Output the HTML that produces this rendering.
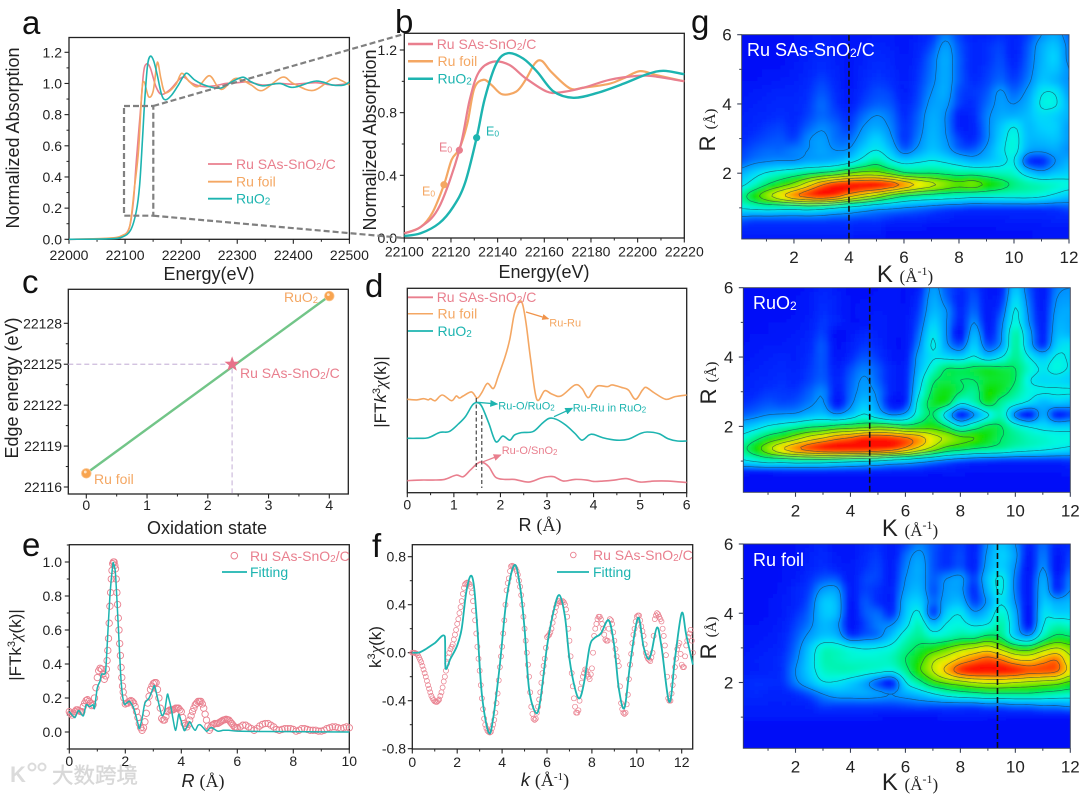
<!DOCTYPE html>
<html lang="en">
<head>
<meta charset="utf-8">
<title>Ru SAs-SnO2/C XAFS figure</title>
<style>
html,body{margin:0;padding:0;background:#fff;}
#figure{display:block;width:1080px;height:794px;filter:blur(0.35px);font-family:"Liberation Sans",Arial,sans-serif;fill:#222;}
.serif{font-family:"Liberation Serif",serif;}
.pl{font-size:33px;fill:#111;}
.at{font-size:18px;fill:#222;}
.lg{font-size:14px;}
.an{font-size:11px;}
.pink{fill:#e97f8e;}
.orange{fill:#f4a763;}
.teal{fill:#1db4b0;}
.wh{fill:#fff;font-size:18px;}
</style>
</head>
<body>
<svg id="figure" xmlns="http://www.w3.org/2000/svg" width="1080" height="794" viewBox="0 0 1080 794">
<defs>
<marker id="arrow-orange" markerWidth="7" markerHeight="6" refX="6" refY="3" orient="auto" markerUnits="userSpaceOnUse"><path d="M0 0L7 3L0 6z" fill="#f0934a"/></marker>
<marker id="arrow-teal" markerWidth="8" markerHeight="7" refX="7" refY="3.5" orient="auto" markerUnits="userSpaceOnUse"><path d="M0 0L8 3.5L0 7z" fill="#1db4b0"/></marker>
<marker id="arrow-pink" markerWidth="8" markerHeight="7" refX="7" refY="3.5" orient="auto" markerUnits="userSpaceOnUse"><path d="M0 0L8 3.5L0 7z" fill="#e97f8e"/></marker>
<filter id="soft" x="-5%" y="-5%" width="110%" height="110%"><feGaussianBlur stdDeviation="1.5"/></filter>
<clipPath id="clip-g1"><rect x="741.7" y="34.7" width="327.3" height="204.3"/></clipPath>
<clipPath id="clip-g2"><rect x="743.3" y="287.7" width="327" height="204.6"/></clipPath>
<clipPath id="clip-g3"><rect x="743.3" y="544" width="327" height="204.3"/></clipPath>
</defs>

<!-- panel letters -->
<text class="pl" x="22" y="34">a</text>
<text class="pl" x="395" y="33">b</text>
<text class="pl" x="22" y="293">c</text>
<text class="pl" x="365" y="297">d</text>
<text class="pl" x="22" y="556">e</text>
<text class="pl" x="372" y="557">f</text>
<text class="pl" x="691" y="33">g</text>

<!-- heatmap layers -->
<g id="layer-g1"></g>
<g id="layer-g2"></g>
<g id="layer-g3"></g>

<!-- line plot layers -->
<g id="layer-a"></g>
<g id="layer-b"></g>
<g id="layer-c"></g>
<g id="layer-d"></g>
<g id="layer-e"></g>
<g id="layer-f"></g>

<!-- zoom guide between a and b -->
<g fill="none" stroke="#808080" stroke-width="2.2" stroke-dasharray="6 3">
<rect x="124" y="106" width="29.3" height="109.7"/>
<line x1="153.3" y1="106" x2="404" y2="34"/>
<line x1="153.3" y1="215.7" x2="404" y2="238"/>
</g>

<!-- axis titles -->
<text class="at" transform="translate(19,138) rotate(-90)" text-anchor="middle">Normalized Absorption</text>
<text class="at" x="209" y="280" text-anchor="middle">Energy(eV)</text>
<text class="at" transform="translate(376,140) rotate(-90)" text-anchor="middle">Normalized Absorption</text>
<text class="at" x="544" y="278" text-anchor="middle">Energy(eV)</text>
<text class="at" transform="translate(18,388) rotate(-90)" text-anchor="middle">Edge energy (eV)</text>
<text class="at" x="207" y="534" text-anchor="middle">Oxidation state</text>
<text class="at" style="font-size:17px" transform="translate(386,392) rotate(-90)" text-anchor="middle">|FT<tspan font-style="italic">k</tspan><tspan font-size="11" dy="-6">3</tspan><tspan dy="6" class="serif" font-style="italic">χ</tspan>(k)|</text>
<text class="at" x="540" y="531" text-anchor="middle">R <tspan class="serif">(Å)</tspan></text>
<text class="at" style="font-size:17px" transform="translate(21,645) rotate(-90)" text-anchor="middle">|FTk<tspan font-size="11" dy="-6">3</tspan><tspan dy="6" class="serif" font-style="italic">χ</tspan>(k)|</text>
<text class="at" x="203" y="787" text-anchor="middle"><tspan font-style="italic">R</tspan> <tspan class="serif">(Å)</tspan></text>
<text class="at" style="font-size:17px" transform="translate(381,647) rotate(-90)" text-anchor="middle">k<tspan font-size="11" dy="-6">3</tspan><tspan dy="6" class="serif" font-style="italic">χ</tspan>(k)</text>
<text class="at" x="545" y="786" text-anchor="middle"><tspan font-style="italic">k</tspan> <tspan class="serif">(Å<tspan font-size="11" dy="-6">-1</tspan><tspan dy="6">)</tspan></tspan></text>

<!-- legends -->
<g>
<line x1="208" y1="164" x2="232" y2="164" stroke="#e97f8e" stroke-width="1.8"/>
<line x1="208" y1="181.7" x2="232" y2="181.7" stroke="#f4a763" stroke-width="1.8"/>
<line x1="208" y1="198.7" x2="232" y2="198.7" stroke="#1db4b0" stroke-width="1.8"/>
<text class="lg pink" x="236" y="169">Ru SAs-SnO<tspan font-size="10" dy="1">2</tspan><tspan dy="-1">/C</tspan></text>
<text class="lg orange" x="236" y="186.5">Ru foil</text>
<text class="lg teal" x="236" y="203.5">RuO<tspan font-size="10" dy="1">2</tspan></text>
</g>
<g>
<line x1="408" y1="44" x2="433" y2="44" stroke="#e97f8e" stroke-width="2.5"/>
<line x1="408" y1="61.3" x2="433" y2="61.3" stroke="#f4a763" stroke-width="2.5"/>
<line x1="408" y1="78.7" x2="433" y2="78.7" stroke="#1db4b0" stroke-width="2.5"/>
<text class="lg pink" x="436.7" y="49">Ru SAs-SnO<tspan font-size="10" dy="1">2</tspan><tspan dy="-1">/C</tspan></text>
<text class="lg orange" x="437.5" y="66">Ru foil</text>
<text class="lg teal" x="437.5" y="83.5">RuO<tspan font-size="10" dy="1">2</tspan></text>
<text class="pink" font-size="12.5" x="439" y="151.5">E<tspan font-size="8.5" dy="1">0</tspan></text>
<text class="orange" font-size="12.5" x="422" y="195.5">E<tspan font-size="8.5" dy="1">0</tspan></text>
<text class="teal" font-size="12.5" x="486" y="135.5">E<tspan font-size="8.5" dy="1">0</tspan></text>
</g>
<g>
<text class="lg orange" font-size="13" x="284" y="302">RuO<tspan font-size="9.5" dy="1">2</tspan></text>
<text class="lg orange" x="94" y="484">Ru foil</text>
<text class="lg pink" x="240" y="378">Ru SAs-SnO<tspan font-size="10" dy="1">2</tspan><tspan dy="-1">/C</tspan></text>
</g>
<g>
<line x1="408" y1="297.3" x2="433" y2="297.3" stroke="#e97f8e" stroke-width="1.8"/>
<line x1="408" y1="313.7" x2="433" y2="313.7" stroke="#f4a763" stroke-width="1.5"/>
<line x1="408" y1="331" x2="433" y2="331" stroke="#1db4b0" stroke-width="1.8"/>
<text class="lg pink" x="436.7" y="302">Ru SAs-SnO<tspan font-size="10" dy="1">2</tspan><tspan dy="-1">/C</tspan></text>
<text class="lg orange" x="437.5" y="318.5">Ru foil</text>
<text class="lg teal" x="437.5" y="336">RuO<tspan font-size="10" dy="1">2</tspan></text>
<g fill="none" stroke-width="1.3">
<line x1="526" y1="312" x2="548.3" y2="318.7" stroke="#f0934a" marker-end="url(#arrow-orange)"/>
<line x1="477.3" y1="402.3" x2="497.3" y2="404" stroke="#1db4b0" marker-end="url(#arrow-teal)"/>
<line x1="554" y1="416.7" x2="572.3" y2="408.3" stroke="#1db4b0" marker-end="url(#arrow-teal)"/>
<line x1="481.7" y1="462.3" x2="500.7" y2="455" stroke="#e97f8e" marker-end="url(#arrow-pink)"/>
</g>
<text class="an orange" x="549.3" y="326.3">Ru-Ru</text>
<text class="an teal" x="498.3" y="409.3">Ru-O/RuO<tspan font-size="8" dy="1">2</tspan></text>
<text class="an teal" x="572.7" y="411.3">Ru-Ru in RuO<tspan font-size="8" dy="1">2</tspan></text>
<text class="an pink" x="501.7" y="454">Ru-O/SnO<tspan font-size="8" dy="1">2</tspan></text>
</g>
<g>
<circle cx="234.3" cy="555.7" r="3.3" fill="none" stroke="#e97f8e" stroke-width="1"/>
<text class="lg pink" x="250" y="561">Ru SAs-SnO<tspan font-size="10" dy="1">2</tspan><tspan dy="-1">/C</tspan></text>
<line x1="222" y1="572" x2="247" y2="572" stroke="#1db4b0" stroke-width="1.8"/>
<text class="lg teal" x="250" y="577">Fitting</text>
</g>
<g>
<circle cx="573.3" cy="555" r="2.8" fill="none" stroke="#e97f8e" stroke-width="0.9"/>
<text class="lg pink" x="593" y="560">Ru SAs-SnO<tspan font-size="10" dy="1">2</tspan><tspan dy="-1">/C</tspan></text>
<line x1="557" y1="572" x2="589" y2="572" stroke="#1db4b0" stroke-width="1.8"/>
<text class="lg teal" x="593" y="577">Fitting</text>
</g>

<!-- heatmap labels and titles -->
<text class="wh" x="747" y="56">Ru SAs-SnO<tspan font-size="12" dy="1">2</tspan><tspan dy="-1">/C</tspan></text>
<text class="wh" x="753" y="309">RuO<tspan font-size="12" dy="1">2</tspan></text>
<text class="wh" x="753" y="566">Ru foil</text>

<text transform="translate(715,130) rotate(-90)" text-anchor="middle" font-size="22">R <tspan class="serif" font-size="15">(Å)</tspan></text>
<text transform="translate(716,383) rotate(-90)" text-anchor="middle" font-size="22">R <tspan class="serif" font-size="15">(Å)</tspan></text>
<text transform="translate(716,638) rotate(-90)" text-anchor="middle" font-size="22">R <tspan class="serif" font-size="15">(Å)</tspan></text>
<text x="905" y="282" text-anchor="middle" font-size="24">K <tspan class="serif" font-size="17">(Å<tspan font-size="12" dy="-7">-1</tspan><tspan dy="7">)</tspan></tspan></text>
<text x="910" y="536" text-anchor="middle" font-size="24">K <tspan class="serif" font-size="17">(Å<tspan font-size="12" dy="-7">-1</tspan><tspan dy="7">)</tspan></tspan></text>
<text x="910" y="790" text-anchor="middle" font-size="24">K <tspan class="serif" font-size="17">(Å<tspan font-size="12" dy="-7">-1</tspan><tspan dy="7">)</tspan></tspan></text>

<!-- watermark -->
<g opacity="0.9">
<text x="10" y="782" font-size="22" font-weight="bold" fill="#d8d8d8">K</text>
<circle cx="32" cy="767" r="3.5" fill="none" stroke="#d8d8d8" stroke-width="2"/>
<circle cx="42" cy="767" r="3.5" fill="none" stroke="#d8d8d8" stroke-width="2"/>
<text x="52" y="783" font-size="21.5" fill="#d4d4d4" stroke="#d4d4d4" stroke-width="0.4" style="font-family:'Liberation Sans','Noto Sans CJK SC',sans-serif">大数跨境</text>
</g>
</svg>

<script>
/* ---------- panel a / b data ---------- */
const aEnergySas=[22000,22070,22095,22108,22115,22120,22128,22133,22138,22145,22155,22165,22180,22195,22205,22220,22240,22260,22280,22300,22320,22345,22375,22400,22440,22470,22500];
const aValueSas=[0,.005,.02,.08,.25,.5,.85,1.07,1.125,1.1,.98,.93,.96,1.02,1.04,1.0,.98,.985,1.0,1.005,1.01,.99,1.0,.995,1.005,.99,1.0];
const aEnergyFoil=[22000,22070,22095,22108,22117,22124,22130,22134,22142,22150,22156,22159,22164,22172,22190,22201,22215,22230,22250,22265,22275,22295,22310,22325,22345,22380,22400,22435,22470,22485,22500];
const aValueFoil=[0,.007,.025,.08,.34,.57,.95,1.01,.915,.95,1.11,1.13,1.03,.94,.99,1.065,1.01,.98,1.05,.98,.965,1.03,1.02,.99,.955,1.04,1.0,.955,1.03,1.02,.99];
const aEnergyRuo2=[22000,22070,22095,22110,22120,22126,22131,22135,22140,22145,22151,22157,22165,22172,22183,22195,22204,22211,22225,22245,22270,22290,22310,22325,22345,22375,22400,22440,22470,22490,22500];
const aValueRuo2=[0,.003,.015,.06,.18,.35,.64,.89,1.115,1.175,1.145,1.06,.93,.895,.925,.99,1.045,1.065,1.02,.985,.97,1.01,1.04,1.01,.985,1.0,.975,1.015,.99,.99,1.01];

const bEnergySas=[22100,22107,22115,22123.6,22128,22132,22138,22145,22152,22161,22167,22177,22188,22200,22208,22220];
const bValueSas=[.03,.07,.2,.56,.88,1.06,1.125,1.105,1.02,.935,.93,.96,1.01,1.035,1.03,1.0];
const bEnergyFoil=[22100,22107,22112,22117,22120.3,22123.6,22127,22130,22134,22137.5,22142,22148,22152,22156,22159,22163,22171,22177,22188,22194,22201,22208,22220];
const bValueFoil=[.03,.07,.16,.34,.5,.57,.73,.955,1.01,.975,.917,.935,1.01,1.115,1.13,1.06,.955,.96,.985,1.02,1.065,1.04,1.0];
const bEnergyRuo2=[22100,22107,22115,22121,22126,22131,22134.5,22139.5,22144.5,22151,22157,22164,22172.5,22182.5,22194,22204,22211,22220];
const bValueRuo2=[.013,.03,.095,.2,.35,.64,.89,1.115,1.18,1.145,1.06,.935,.895,.925,.985,1.045,1.067,1.045];
const bE0Energy=[22123.6,22117,22131];
const bE0Value=[.56,.34,.64];

/* ---------- panel c data ---------- */
const cOxidation=[0,4];
const cEdge=[22117,22130];
const cSampleOx=2.4;
const cSampleEdge=22125;

/* ---------- panel d data (arbitrary units) ---------- */
const dRSas=[0,.3,.55,.8,1.05,1.2,1.35,1.5,1.6,1.75,1.9,2.1,2.3,2.6,2.85,3.0,3.15,3.35,3.6,3.85,4.0,4.2,4.45,4.7,5.0,5.3,5.6,6];
const dValSas=[5.9,6.2,6.2,6.5,8.6,7.8,11,14.2,15,12.7,7.5,6.5,6.5,5.2,7,7.8,7.8,5.7,6.5,6.2,5.5,5.7,6.2,6.9,5.2,5.7,5.7,5];
const dRFoil=[0,.2,.35,.45,.5,.6,.75,.95,1.05,1.12,1.2,1.38,1.5,1.6,1.72,1.85,1.95,2.1,2.2,2.3,2.4,2.47,2.55,2.65,2.78,2.95,3.1,3.3,3.6,3.75,3.88,4.0,4.1,4.3,4.4,4.6,4.75,4.9,5.05,5.13,5.3,5.55,5.75,6];
const dValFoil=[45.7,45.4,46,45.4,46,45,47.8,45,47.3,46.3,47.3,49.3,46.3,49,53.5,51,56.8,66.5,75,87.7,93,92.6,82.9,65,45.7,49.9,48.3,47.3,52.7,51,46.5,50.2,52.3,51.9,52.7,51.5,50.2,45.7,50.2,51.5,48.9,45.7,47,47.8];
const dRRuo2=[0,.2,.45,.7,.9,1.1,1.25,1.4,1.5,1.6,1.75,1.9,2.05,2.2,2.3,2.45,2.7,2.9,3.05,3.2,3.4,3.6,3.75,3.9,4.0,4.2,4.5,4.75,5.0,5.15,5.4,5.6,5.8,6];
const dValRuo2=[26.6,26.6,26.9,29.5,29.9,33.7,37.3,42.9,44.1,42.2,34,25,27.7,25.7,28.2,29.4,29.9,34,36.4,35.9,33.1,29,25.7,28.2,28.5,26.9,25.7,26.2,28.9,29.7,28.9,26.4,25.3,25.3];
const dDashR=[1.48,1.6];

/* ---------- panel e data ---------- */
const eDataR=[0,.05,.1,.15,.2,.25,.3,.35,.4,.45,.5,.55,.6,.65,.7,.75,.8,.85,.9,.95,1,1.05,1.1,1.15,1.2,1.25,1.3,1.35,1.4,1.45,1.5,1.55,1.6,1.65,1.7,1.75,1.8,1.85,1.9,1.95,2,2.1,2.2,2.3,2.4,2.5,2.6,2.7,2.8,2.9,3,3.1,3.2,3.3,3.4,3.5,3.6,3.7,3.8,3.9,4,4.1,4.2,4.3,4.4,4.5,4.6,4.7,4.8,4.9,5,5.1,5.2,5.3,5.4,5.5,5.6,5.7,5.8,5.9,6,6.1,6.2,6.3,6.4,6.5,6.6,6.7,6.8,6.9,7,7.1,7.2,7.3,7.4,7.5,7.6,7.7,7.8,7.9,8,8.1,8.2,8.3,8.4,8.5,8.6,8.7,8.8,8.9,9,9.1,9.2,9.3,9.4,9.5,9.6,9.7,9.8,9.9,10];
const eDataV=[.12,.11,.1,.11,.12,.13,.13,.125,.12,.12,.15,.17,.185,.19,.18,.17,.155,.16,.2,.26,.32,.36,.375,.37,.34,.31,.33,.42,.55,.74,.9,.99,1,.96,.82,.67,.52,.38,.27,.2,.165,.17,.185,.17,.12,.05,.01,.06,.17,.25,.285,.29,.2,.08,.07,.12,.13,.13,.14,.14,.12,.05,.03,.07,.12,.16,.18,.18,.14,.07,.01,.04,.05,.05,.06,.07,.075,.07,.05,.03,.025,.03,.04,.04,.03,.02,.01,.02,.035,.045,.05,.05,.04,.03,.015,.01,.015,.02,.02,.02,.015,.005,.01,.02,.02,.015,.01,.01,.01,.005,.005,.01,.02,.025,.03,.03,.025,.02,.025,.03,.025];
const eExtraR=[1.325,1.375,1.425,1.475,1.525,1.575,1.625,1.675,1.725,1.775,1.825,1.875,1.925,2.05,2.15,2.25,2.35,2.45,2.55,2.65,2.75,2.85,2.95,3.05,3.15,3.25,3.35,3.45,3.55,3.65,3.75,3.85,3.95,4.05,4.15,4.25,4.35,4.45,4.55,4.65,4.75,4.85,4.95,5.05,5.15,5.25,5.35,5.45,5.55,5.65,5.75,5.85,5.95];
const eExtraV=[.37,.48,.64,.82,.95,1,.98,.9,.75,.6,.45,.32,.235,.17,.18,.18,.15,.085,.025,.025,.11,.21,.27,.29,.25,.14,.07,.09,.125,.13,.135,.14,.13,.085,.04,.045,.095,.14,.17,.18,.165,.105,.035,.025,.045,.05,.055,.065,.072,.073,.06,.04,.027];
const eFitR=[0,.1,.2,.3,.35,.5,.6,.7,.75,.85,.9,1,1.1,1.15,1.25,1.3,1.35,1.45,1.55,1.58,1.65,1.75,1.85,1.95,2.05,2.15,2.3,2.45,2.5,2.6,2.7,2.85,3,3.05,3.15,3.3,3.4,3.5,3.55,3.65,3.7,3.8,3.9,3.95,4.1,4.2,4.3,4.4,4.5,4.6,4.7,4.9,5,5.1,5.3,5.5,5.7,6,7,8,10];
const eFitV=[.12,.1,.085,.12,.125,.095,.16,.15,.15,.16,.14,.26,.3,.34,.34,.36,.5,.8,.98,.99,.93,.62,.3,.17,.17,.18,.14,.05,.02,.08,.17,.2,.26,.27,.2,.1,.12,.22,.2,.13,.08,.01,.1,.09,.01,.03,.06,.03,.01,.04,.04,.005,.02,.025,.005,.01,.01,.005,.003,.002,0];

/* ---------- panel f data ---------- */
const fDataK=[0,.1,.2,.3,.4,.5,.6,.7,.8,.9,1,1.1,1.2,1.3,1.4,1.5,1.6,1.7,1.8,1.9,2,2.1,2.2,2.3,2.4,2.5,2.6,2.7,2.8,2.9,3,3.1,3.2,3.3,3.4,3.5,3.6,3.7,3.8,3.9,4,4.1,4.2,4.3,4.4,4.5,4.6,4.7,4.8,4.9,5,5.1,5.2,5.3,5.4,5.5,5.6,5.7,5.8,5.9,6,6.1,6.2,6.3,6.4,6.5,6.6,6.7,6.8,6.9,7,7.1,7.2,7.3,7.4,7.5,7.6,7.7,7.8,7.9,8,8.1,8.2,8.3,8.4,8.5,8.6,8.7,8.8,8.9,9,9.1,9.2,9.3,9.4,9.5,9.6,9.7,9.8,9.9,10,10.1,10.2,10.3,10.4,10.5,10.6,10.7,10.8,10.9,11,11.1,11.2,11.3,11.4,11.5,11.6,11.7,11.8,11.9,12,12.1,12.2,12.3,12.4,12.5];
const fDataV=[0,0,-.01,-.04,-.08,-.14,-.2,-.27,-.33,-.38,-.405,-.41,-.39,-.33,-.24,-.15,-.04,.03,.07,.15,.24,.33,.43,.54,.58,.58,.55,.43,.27,.05,-.15,-.38,-.55,-.63,-.66,-.66,-.6,-.5,-.34,-.12,.05,.27,.52,.62,.72,.72,.7,.65,.55,.4,.2,0,-.2,-.45,-.55,-.55,-.45,-.33,-.17,-.05,.13,.15,.2,.3,.38,.43,.42,.43,.4,.3,.1,-.17,-.38,-.5,-.48,-.3,-.2,-.14,-.18,-.22,-.13,.14,.24,.3,.28,.2,.11,.1,.28,.24,.1,-.03,-.11,-.42,-.5,-.5,-.35,-.1,.08,.2,.3,.31,.22,.14,0,-.05,-.07,0,.28,.33,.3,.26,.14,-.02,-.38,-.4,-.27,-.12,.03,.08,-.1,-.12,.06,.13,.19,0];
const fExtraK=[.05,.15,.25,.35,.45,.55,.65,.75,.85,.95,1.05,1.15,1.25,1.35,1.45,1.55,1.65,1.75,1.85,1.95,2.05,2.15,2.25,2.35,2.45,2.55,2.65,2.75,2.85,2.95,3.05,3.15,3.25,3.35,3.45,3.55,3.65,3.75,3.85,3.95,4.05,4.15,4.25,4.35,4.45,4.55,4.65,4.75,4.85,4.95,5.05,5.15,5.25,5.35,5.45,5.55,5.65,5.75,5.85,5.95,6.05,6.15,6.25,6.35,6.45,6.55,6.65,6.75,6.85,6.95,7.05,7.15,7.25,7.35,7.45,7.55,7.65,7.75,7.85,7.95,8.05,8.15,8.25,8.35,8.45,8.55,8.65,8.75,8.85,8.95,9.05,9.15,9.25,9.35,9.45,9.55,9.65,9.75,9.85,9.95,10.05,10.15,10.25,10.35,10.45,10.55,10.65,10.75,10.85,10.95,11.05,11.15,11.25,11.35,11.45,11.55,11.65,11.75,11.85,11.95,12.05,12.15,12.25,12.35,12.45];
const fExtraV=[0,-.005,-.02,-.06,-.11,-.17,-.235,-.3,-.36,-.395,-.41,-.4,-.36,-.29,-.2,-.09,0,.05,.11,.19,.28,.38,.49,.57,.585,.57,.5,.35,.16,-.05,-.27,-.47,-.6,-.65,-.665,-.63,-.56,-.42,-.23,-.03,.16,.4,.58,.68,.725,.715,.68,.6,.48,.3,.1,-.1,-.33,-.51,-.56,-.5,-.39,-.25,-.11,.04,.14,.17,.25,.34,.41,.43,.425,.42,.36,.2,-.03,-.28,-.45,-.5,-.4,-.25,-.17,-.15,-.2,-.18,0,.2,.28,.3,.24,.15,.1,.2,.27,.17,.03,-.07,-.28,-.47,-.51,-.43,-.22,-.01,.15,.26,.31,.27,.18,.07,-.03,-.06,-.04,.14,.31,.32,.28,.2,.06,-.2,-.4,-.34,-.2,-.05,.06,-.01,-.12,-.03,.1,.16,.1];
const fFitK=[0,.3,.6,1,1.45,1.48,1.7,2,2.2,2.4,2.6,2.75,2.9,3.1,3.4,3.6,3.9,4.2,4.55,4.8,5,5.2,5.5,5.7,6,6.3,6.55,6.8,7,7.25,7.45,7.65,7.9,8.1,8.4,8.75,9,9.2,9.45,9.7,10.05,10.3,10.5,10.65,10.9,11.1,11.45,11.7,12,12.2,12.5];
const fFitV=[0,.002,.03,.08,.135,-.13,-.05,.06,.2,.5,.64,.55,.2,-.35,-.665,-.55,-.1,.45,.73,.55,.2,-.3,-.5,-.4,.05,.35,.48,.3,-.05,-.3,-.38,-.25,.05,.12,.16,.27,.05,-.3,-.46,-.1,.29,.05,-.05,0,.21,.05,-.41,-.05,.33,.15,-.1];

/* ---------- tick labels ---------- */
const aXTicks=[22000,22100,22200,22300,22400,22500];
const aYTicks=[0,.2,.4,.6,.8,1,1.2];
const bXTicks=[22100,22120,22140,22160,22180,22200,22220];
const bYTicks=[0,.4,.8,1.2];
const cXTicks=[0,1,2,3,4];
const cYTicks=[22116,22119,22122,22125,22128];
const cYLabels=['22116','22119','22122','22125','22128'];
const dXTicks=[0,1,2,3,4,5,6];
const eXTicks=[0,2,4,6,8,10];
const eYTicks=[0,.2,.4,.6,.8,1];
const fXTicks=[0,2,4,6,8,10,12];
const fYTicks=[-.8,-.4,0,.4,.8];
const gKTicks=[2,4,6,8,10,12];
const gRTicks=[2,4,6];

/* ---------- wavelet maps: rows R=6 to 0 in 1/3 steps, columns K=0 to 12 in 0.5 steps ---------- */
const g1Grid=[
[3,3,3,3,4,5,6,5,4,5,6,6,5,7,10,18,12,8,8,10,8,12,20,24,16],
[3,3,3,3,4,6,8,6,4,6,8,7,5,8,13,22,14,9,10,12,8,14,24,28,18],
[3,3,3,3,5,7,9,7,5,7,9,8,6,9,16,24,15,9,10,13,8,15,25,30,18],
[3,3,4,4,6,8,10,8,5,8,10,9,6,10,17,24,15,9,11,14,10,16,26,28,20],
[4,4,5,6,7,9,12,9,5,9,11,10,7,11,18,24,15,10,12,16,12,18,28,26,20],
[5,6,7,8,8,10,14,10,6,10,13,12,7,12,20,24,13,11,14,21,16,22,34,34,22],
[6,7,8,9,9,11,16,11,7,12,15,14,9,13,22,22,12,10,16,22,20,25,36,36,25],
[7,8,9,10,9,12,16,13,10,16,20,17,10,15,24,20,8,9,18,24,25,27,32,30,25],
[8,9,11,12,10,15,19,16,12,20,24,19,11,16,25,20,8,8,18,28,35,27,30,30,22],
[9,11,13,14,12,19,22,17,16,24,30,22,11,18,26,21,12,9,18,30,38,27,27,28,22],
[11,14,16,16,18,20,23,20,21,30,35,28,16,22,28,24,16,15,22,32,38,24,22,24,20],
[14,18,20,21,21,24,25,27,32,40,46,38,32,34,36,34,30,26,28,32,35,12,9,20,25],
[24,30,36,40,44,48,52,56,62,66,66,60,52,50,50,48,46,46,44,42,40,30,24,28,30],
[32,40,50,58,66,78,90,98,100,100,100,96,88,80,74,68,64,66,60,54,48,44,42,40,38],
[44,56,68,78,88,94,98,94,84,76,68,58,50,46,44,42,40,38,38,38,38,38,36,32,28],
[36,38,40,40,40,42,40,36,32,28,24,22,20,18,16,14,13,12,12,12,12,12,12,12,14],
[16,14,14,14,14,14,14,13,13,12,12,10,9,9,8,7,6,6,6,6,7,7,7,8,8],
[8,8,8,8,8,8,8,8,8,7,7,4,4,4,3,3,3,3,3,4,4,4,5,5,5],
[5,5,5,5,5,5,5,5,5,4,4,3,3,3,3,3,3,3,3,3,3,4,4,4,4]
];
const g2Grid=[
[3,3,3,3,3,5,8,6,3,3,4,5,4,8,22,14,10,12,5,8,28,14,6,18,20],
[3,3,3,3,4,6,9,7,4,4,5,5,4,10,24,16,8,14,6,10,32,16,6,20,22],
[3,3,3,3,4,6,10,7,4,5,6,5,5,12,26,20,9,16,6,14,36,18,7,22,24],
[3,3,4,4,5,7,11,8,4,5,7,5,5,14,30,20,8,20,6,18,38,20,7,24,24],
[3,4,4,5,6,8,12,3,5,9,7,5,5,17,34,20,5,26,8,20,44,24,8,26,26],
[4,5,6,6,7,9,14,4,7,11,9,5,5,20,36,22,14,30,14,22,45,26,10,30,34],
[5,6,7,8,7,10,14,5,9,14,11,6,6,24,34,32,30,36,28,35,46,35,28,36,34],
[6,7,8,9,8,11,14,7,13,18,14,8,8,26,40,50,50,52,54,52,50,40,34,38,34],
[7,8,9,10,9,12,15,8,15,21,15,8,8,30,48,52,50,50,54,54,50,36,32,32,30],
[8,9,11,11,11,15,19,7,16,23,18,8,8,34,52,56,50,46,58,54,46,38,36,36,36],
[10,12,14,13,14,18,21,6,18,28,20,6,9,40,54,54,36,42,54,45,38,32,26,28,26],
[15,17,20,21,22,26,28,22,28,36,28,20,24,42,50,30,8,20,34,42,18,6,24,8,12],
[26,30,36,40,44,48,50,54,56,58,60,58,54,56,58,50,36,44,52,50,40,34,32,30,30],
[38,46,54,60,68,76,82,88,92,98,98,96,92,86,76,70,64,62,56,50,46,42,40,38,38],
[46,56,68,80,88,94,98,100,100,100,98,94,86,76,66,56,52,48,46,44,40,38,36,34,32],
[32,36,40,40,42,42,42,40,38,36,34,30,28,24,20,16,13,11,10,9,9,9,9,9,10],
[6,6,6,7,7,7,7,7,7,7,6,6,6,6,5,5,5,4,4,4,4,4,4,4,5],
[3,3,3,3,3,3,3,3,3,3,3,3,3,3,3,3,3,3,3,3,3,3,3,3,3],
[2,2,2,2,2,2,2,2,2,2,2,2,2,2,2,2,2,2,2,2,2,2,2,2,2]
];
const g3Grid=[
[3,3,3,3,4,6,8,5,5,8,10,6,12,18,14,10,12,8,20,28,20,8,16,8,10],
[3,3,3,3,4,7,9,6,5,9,11,6,16,22,14,10,13,8,22,30,22,6,18,6,12],
[3,3,3,4,5,8,10,8,6,10,12,7,18,24,14,11,14,8,24,30,20,5,20,5,14],
[3,3,3,4,6,10,14,14,6,12,12,7,20,24,15,20,22,12,28,36,18,6,24,8,18],
[3,3,3,5,8,12,22,22,7,12,10,8,22,26,14,22,22,10,26,36,18,6,26,10,20],
[3,3,4,6,8,14,28,26,6,14,10,8,26,30,16,24,26,12,22,34,20,6,28,24,26],
[3,3,4,6,10,16,28,26,5,14,16,10,28,36,12,30,34,22,28,40,24,4,32,30,30],
[4,4,5,7,12,18,26,22,5,12,18,20,32,42,28,36,38,34,36,44,26,6,34,42,40],
[4,5,6,8,14,22,28,26,12,15,18,28,40,46,40,42,46,46,52,48,30,22,42,52,50],
[5,6,7,9,16,28,40,40,36,34,35,38,46,52,56,62,68,72,76,68,58,56,66,72,66],
[6,7,8,10,18,30,42,42,40,40,40,42,50,58,70,76,84,90,94,90,82,80,86,90,74],
[6,7,8,10,20,30,40,42,42,40,38,36,46,60,72,84,96,100,100,100,98,94,94,92,78],
[8,10,10,10,18,26,34,34,30,24,14,8,34,46,58,64,68,72,74,74,72,70,68,66,60],
[8,9,8,8,10,14,20,24,24,24,22,20,24,28,34,40,44,46,48,48,48,48,46,44,42],
[7,7,7,7,7,8,12,12,12,12,12,12,13,14,14,14,14,14,16,16,18,18,20,20,22],
[6,6,6,6,6,6,6,6,6,6,5,4,4,4,4,6,6,6,5,5,5,5,5,5,5],
[2,2,2,2,2,2,2,2,2,2,2,2,2,2,2,2,2,2,2,2,2,2,2,2,2],
[2,2,2,2,2,2,2,2,2,2,2,2,2,2,2,2,2,2,2,2,2,2,2,2,2],
[2,2,2,2,2,2,2,2,2,2,2,2,2,2,2,2,2,2,2,2,2,2,2,2,2]
];
const gContourLevels=[20,35,50,62,72,82,91];
const gDashK=[4,4.7,9.35];

/* ---------- helpers ---------- */
const NS='http://www.w3.org/2000/svg';
const PINK='#e97f8e',ORANGE='#f4a763',TEAL='#1db4b0';
function mk(parent,tag,attrs,name,text){
  const node=document.createElementNS(NS,tag);
  for(const key in attrs){node.setAttribute(key,attrs[key]);}
  
  
  if(text!==undefined){node.textContent=text;}
  parent.appendChild(node);
  return node;
}
function linear(d0,d1,p0,p1){return v=>p0+(v-d0)*(p1-p0)/(d1-d0);}
function smoothPath(xs,ys,sx,sy,tension){
  const p=xs.map((x,i)=>[sx(x),sy(ys[i])]);
  const t=tension===undefined?0.5:tension;
  let d='M'+p[0][0].toFixed(2)+' '+p[0][1].toFixed(2);
  for(let i=0;i<p.length-1;i++){
    const p0=p[Math.max(0,i-1)],p1=p[i],p2=p[i+1],p3=p[Math.min(p.length-1,i+2)];
    const lim=(p2[0]-p1[0]);
    let c1x=p1[0]+(p2[0]-p0[0])/6*t*2,c2x=p2[0]-(p3[0]-p1[0])/6*t*2;
    c1x=Math.min(c1x,p1[0]+lim);c2x=Math.max(c2x,p2[0]-lim);
    const c1y=p1[1]+(p2[1]-p0[1])/6*t*2,c2y=p2[1]-(p3[1]-p1[1])/6*t*2;
    d+='C'+c1x.toFixed(2)+' '+c1y.toFixed(2)+' '+c2x.toFixed(2)+' '+c2y.toFixed(2)+' '+p2[0].toFixed(2)+' '+p2[1].toFixed(2);
  }
  return d;
}
function drawAxes(layer,o){
  mk(layer,'rect',{x:o.x0,y:o.y0,width:o.x1-o.x0,height:o.y1-o.y0,fill:'none',stroke:o.frame||'#222','stroke-width':o.frameW||1.3},'plot-frame');
  const tc=o.frame||'#222';
  o.xTicks.forEach((v,i)=>{
    mk(layer,'line',{x1:o.sx(v),x2:o.sx(v),y1:o.y1,y2:o.y1+4.5,stroke:tc,'stroke-width':1.1},'x-major-tick');
    mk(layer,'text',{x:o.sx(v),y:o.xLabelY,'text-anchor':'middle','font-size':o.fs||14,fill:'#222'},'x-tick-label',o.xFmt?o.xFmt(v):String(v));
  });
  for(const v of o.xMinor||[]){
    mk(layer,'line',{x1:o.sx(v),x2:o.sx(v),y1:o.y1,y2:o.y1+2.5,stroke:tc,'stroke-width':1},'x-minor-tick');
  }
  o.yTicks.forEach((v,i)=>{
    mk(layer,'line',{x1:o.x0-4.5,x2:o.x0,y1:o.sy(v),y2:o.sy(v),stroke:tc,'stroke-width':1.1},'y-major-tick');
    mk(layer,'text',{x:o.yLabelX,y:o.sy(v)+(o.fs?6:5),'text-anchor':'end','font-size':o.fs||14,fill:'#222'},'y-tick-label',o.yFmt?o.yFmt(v):String(v));
  });
  for(const v of o.yMinor||[]){
    mk(layer,'line',{x1:o.x0-2.5,x2:o.x0,y1:o.sy(v),y2:o.sy(v),stroke:tc,'stroke-width':1},'y-minor-tick');
  }
}
function series(layer,xs,ys,sx,sy,color,width,name,tension){
  mk(layer,'path',{d:smoothPath(xs,ys,sx,sy,tension),fill:'none',stroke:color,'stroke-width':width,'stroke-linejoin':'round'},name);
}
function between(a,b,step){const r=[];for(let v=a;v<=b+1e-9;v+=step){r.push(+v.toFixed(4));}return r;}
const f1=v=>v.toFixed(1);

/* ---------- panel a ---------- */
(function(){
  const L=document.getElementById('layer-a');
  const sx=linear(22000,22500,69,349.4),sy=linear(0,1.2,239.3,52.3);
  drawAxes(L,{x0:69,x1:349.4,y0:37.5,y1:239.3,sx,sy,xTicks:aXTicks,yTicks:aYTicks,xMinor:between(22050,22450,100),yMinor:between(.1,1.2,.2),xLabelY:260,yLabelX:62,yFmt:f1});
  series(L,aEnergySas,aValueSas,sx,sy,PINK,1.6,'series-ru-sas');
  series(L,aEnergyFoil,aValueFoil,sx,sy,ORANGE,1.6,'series-ru-foil');
  series(L,aEnergyRuo2,aValueRuo2,sx,sy,TEAL,1.6,'series-ruo2');
})();

/* ---------- panel b ---------- */
(function(){
  const L=document.getElementById('layer-b');
  const sx=linear(22100,22220,404.3,684.3),sy=linear(0,1.2,238,50);
  drawAxes(L,{x0:404.3,x1:684.3,y0:33.3,y1:238,sx,sy,xTicks:bXTicks,yTicks:bYTicks,xMinor:between(22110,22210,20),yMinor:between(.2,1,.4),xLabelY:256.5,yLabelX:397,yFmt:f1});
  series(L,bEnergyFoil,bValueFoil,sx,sy,ORANGE,2.2,'series-ru-foil');
  series(L,bEnergySas,bValueSas,sx,sy,PINK,2.2,'series-ru-sas');
  series(L,bEnergyRuo2,bValueRuo2,sx,sy,TEAL,2.4,'series-ruo2');
  const cols=[PINK,ORANGE,TEAL];
  bE0Energy.forEach((e,i)=>{
    mk(L,'circle',{cx:sx(e),cy:sy(bE0Value[i]),r:3.3,fill:cols[i],stroke:cols[i],'stroke-width':.6},'e0-marker');
  });
})();

/* ---------- panel c ---------- */
(function(){
  const L=document.getElementById('layer-c');
  const sx=linear(0,4,86.3,329.3),sy=linear(22116,22128,487,323.3);
  drawAxes(L,{x0:68.3,x1:348.3,y0:289.3,y1:494,sx,sy,xTicks:cXTicks,yTicks:cYTicks,xMinor:between(.5,3.5,1),yMinor:between(22117.5,22129,3),xLabelY:510,yLabelX:62,yFmt:v=>cYLabels[cYTicks.indexOf(v)]});
  mk(L,'path',{d:'M68.3 '+sy(cSampleEdge)+'H'+sx(cSampleOx)+'V494',fill:'none',stroke:'#cdbbdc','stroke-width':1.2,'stroke-dasharray':'5 3'},'guide-lines');
  mk(L,'line',{x1:sx(cOxidation[0]),y1:sy(cEdge[0]),x2:sx(cOxidation[1]),y2:sy(cEdge[1]),stroke:'#72c588','stroke-width':2.4},'trend-line');
  cOxidation.forEach((o,i)=>{
    mk(L,'circle',{cx:sx(o),cy:sy(cEdge[i]),r:4.8,fill:'#f8a44f',stroke:'#fbc48f','stroke-width':.8},'reference-point');
    mk(L,'circle',{cx:sx(o)-1,cy:sy(cEdge[i])-1.4,r:1.4,fill:'#ffe3c4'},'reference-point-highlight');
  });
  const cx=sx(cSampleOx),cy=sy(cSampleEdge);
  const pts=[];
  for(let i=0;i<10;i++){const r=i%2?3.3:8,a=-Math.PI/2+i*Math.PI/5;pts.push((cx+r*Math.cos(a)).toFixed(1)+','+(cy+r*Math.sin(a)).toFixed(1));}
  mk(L,'polygon',{points:pts.join(' '),fill:'#e8728a'},'sample-star');
})();

/* ---------- panel d ---------- */
(function(){
  const L=document.getElementById('layer-d');
  const sx=linear(0,6,407.3,686.7),sy=linear(0,100,492.7,288.3);
  drawAxes(L,{x0:407.3,x1:686.7,y0:288.3,y1:492.7,sx,sy,xTicks:dXTicks,yTicks:[],xMinor:between(.5,5.5,1),xLabelY:509.5,yLabelX:400});
  series(L,dRFoil,dValFoil,sx,sy,ORANGE,1.6,'series-ru-foil');
  series(L,dRRuo2,dValRuo2,sx,sy,TEAL,1.6,'series-ruo2');
  series(L,dRSas,dValSas,sx,sy,PINK,1.6,'series-ru-sas');
  mk(L,'line',{x1:sx(dDashR[0]),x2:sx(dDashR[0]),y1:398,y2:470,stroke:'#222','stroke-width':1,'stroke-dasharray':'4 2.5'},'peak-dash-ruo2');
  mk(L,'line',{x1:sx(dDashR[1]),x2:sx(dDashR[1]),y1:415,y2:488,stroke:'#222','stroke-width':1,'stroke-dasharray':'4 2.5'},'peak-dash-sno2');
})();

/* ---------- panel e ---------- */
(function(){
  const L=document.getElementById('layer-e');
  const sx=linear(0,10,69.3,349.3),sy=linear(0,1,732,562);
  drawAxes(L,{x0:69.3,x1:349.3,y0:544.7,y1:749,sx,sy,xTicks:eXTicks,yTicks:eYTicks,xMinor:between(1,9,2),yMinor:between(-.1,1.1,.2),xLabelY:766,yLabelX:62,yFmt:f1});
  eDataR.forEach((r,i)=>{
    mk(L,'circle',{cx:sx(r),cy:sy(eDataV[i]),r:3.2,fill:'none',stroke:PINK,'stroke-width':.9},'data-point');
  });
  eExtraR.forEach((r,i)=>{
    mk(L,'circle',{cx:sx(r),cy:sy(eExtraV[i]),r:3.2,fill:'none',stroke:PINK,'stroke-width':.9},'data-point');
  });
  series(L,eFitR,eFitV,sx,sy,TEAL,1.5,'series-fitting',.4);
})();

/* ---------- panel f ---------- */
(function(){
  const L=document.getElementById('layer-f');
  const sx=linear(0,12,412.3,681.7),sy=linear(0,.8,652.7,556.7);
  drawAxes(L,{x0:412.3,x1:692.7,y0:544.7,y1:749,sx,sy,xTicks:fXTicks,yTicks:fYTicks,xMinor:between(1,11,2),yMinor:between(-.6,.6,.4),xLabelY:767,yLabelX:406,yFmt:f1});
  fDataK.forEach((k,i)=>{
    mk(L,'circle',{cx:sx(k),cy:sy(fDataV[i]),r:2.5,fill:'none',stroke:PINK,'stroke-width':.7},'data-point');
  });
  fExtraK.forEach((k,i)=>{
    mk(L,'circle',{cx:sx(k),cy:sy(fExtraV[i]),r:2.5,fill:'none',stroke:PINK,'stroke-width':.7},'data-point');
  });
  series(L,fFitK,fFitV,sx,sy,TEAL,1.8,'series-fitting',.5);
})();

/* ---------- wavelet maps ---------- */
function colorOf(v){
  const stops=[[0,0,0,245],[10,0,44,255],[20,0,144,255],[30,0,208,255],[38,0,248,224],[48,0,240,128],[58,16,224,0],[68,144,232,0],[78,240,240,0],[88,255,144,0],[100,255,16,0]];
  v=Math.max(0,Math.min(100,v));
  for(let i=1;i<stops.length;i++){
    if(v<=stops[i][0]){
      const a=stops[i-1],b=stops[i],t=(v-a[0])/(b[0]-a[0]);
      return 'rgb('+Math.round(a[1]+(b[1]-a[1])*t)+','+Math.round(a[2]+(b[2]-a[2])*t)+','+Math.round(a[3]+(b[3]-a[3])*t)+')';
    }
  }
  return 'rgb(255,16,0)';
}
function cr(a,b,c,d,t){return b+0.5*t*(c-a+t*(2*a-5*b+4*c-d+t*(3*(b-c)+d-a)));}
function gridSample(grid,u,w){
  const rows=grid.length,cols=grid[0].length;
  u=Math.max(0,Math.min(cols-1,u));w=Math.max(0,Math.min(rows-1,w));
  const i=Math.min(cols-2,Math.floor(u)),j=Math.min(rows-2,Math.floor(w)),tu=u-i,tw=w-j;
  const cell=(a,b)=>grid[Math.max(0,Math.min(rows-1,b))][Math.max(0,Math.min(cols-1,a))];
  const col=[];
  for(let m=-1;m<=2;m++){col.push(cr(cell(i-1,j+m),cell(i,j+m),cell(i+1,j+m),cell(i+2,j+m),tu));}
  return cr(col[0],col[1],col[2],col[3],tw);
}
function contourPath(grid,level,sx,sy,sub){
  const rows=grid.length,cols=grid[0].length,nu=(cols-1)*sub,nw=(rows-1)*sub;
  const val=[];
  for(let j=0;j<=nw;j++){const r=[];for(let i=0;i<=nu;i++){r.push(gridSample(grid,i/sub,j/sub));}val.push(r);}
  const px=u=>sx(u/sub*.5).toFixed(1),py=w=>sy(6-w/sub/3).toFixed(1);
  let d='';
  for(let j=0;j<nw;j++){for(let i=0;i<nu;i++){
    const a=val[j][i],b=val[j][i+1],c=val[j+1][i+1],e=val[j+1][i];
    const idx=(a>level?8:0)|(b>level?4:0)|(c>level?2:0)|(e>level?1:0);
    if(idx===0||idx===15){continue;}
    const top=()=>[px(i+(level-a)/(b-a)),py(j)],right=()=>[px(i+1),py(j+(level-b)/(c-b))],bot=()=>[px(i+(level-e)/(c-e)),py(j+1)],left=()=>[px(i),py(j+(level-a)/(e-a))];
    const seg=(p,q)=>{const A=p(),B=q();d+='M'+A[0]+' '+A[1]+'L'+B[0]+' '+B[1];};
    switch(idx){
      case 1:case 14:seg(left,bot);break;
      case 2:case 13:seg(bot,right);break;
      case 3:case 12:seg(left,right);break;
      case 4:case 11:seg(top,right);break;
      case 6:case 9:seg(top,bot);break;
      case 7:case 8:seg(left,top);break;
      case 5:seg(left,top);seg(bot,right);break;
      case 10:seg(left,bot);seg(top,right);break;
    }
  }}
  return d;
}
function drawMap(id,clip,grid,x0,x1,y0,y1,dashK){
  const L=document.getElementById(id);
  const sx=linear(.1,12,x0,x1),sy=linear(.1,6,y1,y0);
  const clipped=mk(L,'g',{'clip-path':'url(#'+clip+')'},'heatmap-plot-area');
  mk(clipped,'rect',{x:x0,y:y0,width:x1-x0,height:y1-y0,fill:'#0000f5'},'heatmap-background');
  const cells=mk(clipped,'g',{filter:'url(#soft)'},'heatmap-cells');
  const sub=3,rows=grid.length,cols=grid[0].length;
  for(let j=-sub;j<(rows-1)*sub+sub;j++){
    for(let i=-sub;i<(cols-1)*sub+sub;i++){
      const u=(i+.5)/sub,w=(j+.5)/sub;
      const k=(i/sub)*.5,r=6-(j/sub)/3;
      const xa=sx(k),xb=sx(k+.5/sub),ya=sy(r),yb=sy(r-1/3/sub);
      const cell=document.createElementNS(NS,'rect');
      cell.setAttribute('x',xa.toFixed(2));
      cell.setAttribute('y',ya.toFixed(2));
      cell.setAttribute('width',(xb-xa+.5).toFixed(2));
      cell.setAttribute('height',(yb-ya+.5).toFixed(2));
      cell.setAttribute('fill',colorOf(gridSample(grid,u,w)));
      
      
      cells.appendChild(cell);
    }
  }
  gContourLevels.forEach(level=>{
    mk(clipped,'path',{d:contourPath(grid,level,sx,sy,5),fill:'none',stroke:'#1e3c50','stroke-opacity':.65,'stroke-width':.7},'contour-line');
  });
  mk(clipped,'line',{x1:sx(dashK),x2:sx(dashK),y1:y0,y2:y1,stroke:'#111','stroke-width':1.6,'stroke-dasharray':'6 3'},'wavelet-max-dash');
  drawAxes(L,{x0,x1,y0,y1,sx,sy,xTicks:gKTicks,yTicks:gRTicks,xMinor:between(1,11,2),yMinor:between(1,5,2),xLabelY:y1+24,yLabelX:x0-10,fs:17,frame:'#3a4258',frameW:.9});
}
drawMap('layer-g1','clip-g1',g1Grid,741.7,1069,34.7,239,gDashK[0]);
drawMap('layer-g2','clip-g2',g2Grid,743.3,1070.3,287.7,492.3,gDashK[1]);
drawMap('layer-g3','clip-g3',g3Grid,743.3,1070.3,544,748.3,gDashK[2]);
</script>
</body>
</html>
